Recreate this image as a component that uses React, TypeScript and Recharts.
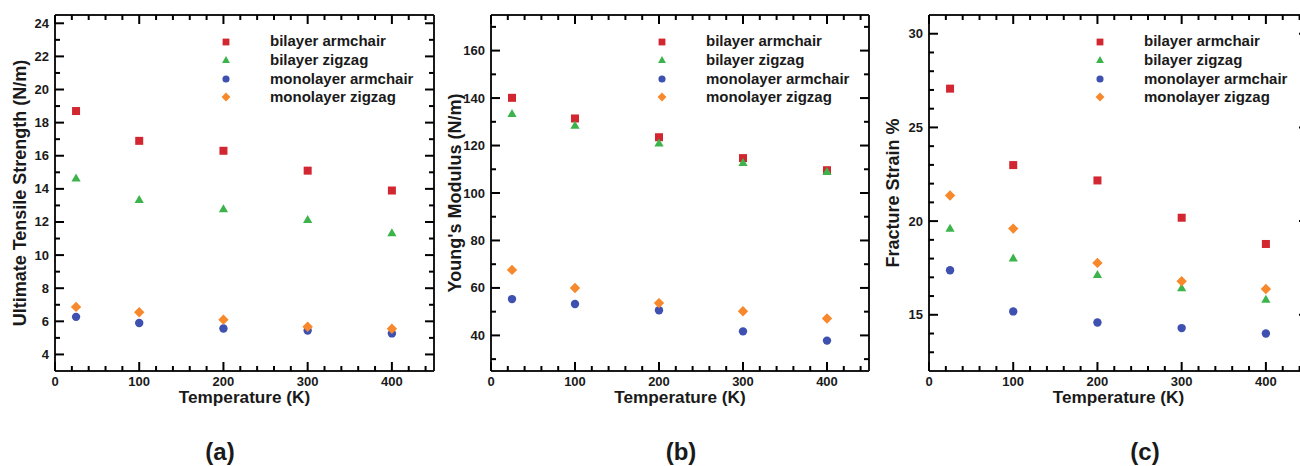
import React from 'react';
import { ScatterChart, Scatter, XAxis, YAxis } from 'recharts';

// shared x values (temperature, K)
const temps = [25, 100, 200, 300, 400];

const seriesNames = ['bilayer armchair', 'bilayer zigzag', 'monolayer armchair', 'monolayer zigzag'];
const seriesColors = ['#d22630', '#3cb44b', '#3f51b0', '#f7882c'];
const seriesShapes = ['square', 'triangle', 'circle', 'diamond'];

// (a) ultimate tensile strength, N/m
const utsBiArm = [18.7, 16.9, 16.3, 15.1, 13.9];
const utsBiZig = [14.65, 13.35, 12.8, 12.15, 11.35];
const utsMonoArm = [6.27, 5.9, 5.57, 5.45, 5.27];
const utsMonoZig = [6.87, 6.55, 6.1, 5.67, 5.55];

// (b) Young's modulus, N/m
const ymBiArm = [140.1, 131.4, 123.5, 114.7, 109.6];
const ymBiZig = [133.5, 128.5, 121, 112.8, 109];
const ymMonoArm = [55.3, 53.2, 50.6, 41.7, 37.8];
const ymMonoZig = [67.6, 60, 53.6, 50.2, 47.1];

// (c) fracture strain, %
const fsBiArm = [27.07, 22.99, 22.17, 20.18, 18.78];
const fsBiZig = [19.61, 18.03, 17.15, 16.44, 15.83];
const fsMonoArm = [17.38, 15.18, 14.59, 14.29, 14.0];
const fsMonoZig = [21.37, 19.6, 17.77, 16.79, 16.38];

// ticks
const xTicks = [0, 20, 40, 60, 80, 100, 120, 140, 160, 180, 200, 220, 240, 260, 280, 300, 320, 340, 360, 380, 400, 420, 440];
const xMajor = [0, 100, 200, 300, 400];
const yTicksA = [4, 5, 6, 7, 8, 9, 10, 11, 12, 13, 14, 15, 16, 17, 18, 19, 20, 21, 22, 23, 24];
const yMajorA = [4, 6, 8, 10, 12, 14, 16, 18, 20, 22, 24];
const yTicksB = [30, 40, 50, 60, 70, 80, 90, 100, 110, 120, 130, 140, 150, 160, 170];
const yMajorB = [40, 60, 80, 100, 120, 140, 160];
const yTicksC = [13, 14, 15, 16, 17, 18, 19, 20, 21, 22, 23, 24, 25, 26, 27, 28, 29, 30];
const yMajorC = [15, 20, 25, 30];

const FONT = '"Liberation Sans", Arial, Helvetica, sans-serif';
const INK = '#1a1a1a';
const CHART_H = 400;

const Marker = ({ cx, cy, kind, fill, k = 1 }: any) => {
  if (cx == null || cy == null) return null;
  if (kind === 'square') {
    const s = 4 * k;
    return <rect x={cx - s} y={cy - s} width={2 * s} height={2 * s} fill={fill} />;
  }
  if (kind === 'triangle') {
    const h = 4.6 * k;
    return <polygon points={`${cx},${cy - h} ${cx + h},${cy + h * 0.75} ${cx - h},${cy + h * 0.75}`} fill={fill} />;
  }
  if (kind === 'circle') return <circle cx={cx} cy={cy} r={4.2 * k} fill={fill} />;
  const d = 5.2 * k;
  return <polygon points={`${cx},${cy - d} ${cx + d},${cy} ${cx},${cy + d} ${cx - d},${cy}`} fill={fill} />;
};

// inward tick marks, long on majors; labels only on the bottom/left majors
const makeTick = (side: string, majors: number[], showLabel: boolean) => (props: any) => {
  const x = Number(props.x);
  const y = Number(props.y);
  const v = props.payload.value;
  const major = majors.includes(v);
  const len = major ? 9 : 5;
  let ex = x;
  let ey = y - len;
  if (side === 'top') ey = y + len;
  if (side === 'left') { ex = x + len; ey = y; }
  if (side === 'right') { ex = x - len; ey = y; }
  return (
    <g>
      <line x1={x} y1={y} x2={ex} y2={ey} stroke="#000" strokeWidth={2} />
      {showLabel && major ? (
        <text
          x={side === 'left' ? x - 6 : x}
          y={side === 'left' ? y + 4.5 : y + 14.5}
          textAnchor={side === 'left' ? 'end' : 'middle'}
          fontFamily={FONT}
          fontWeight={700}
          fontSize={13}
          fill={INK}
        >
          {v}
        </text>
      ) : null}
    </g>
  );
};

const NoMark = () => null;

const LegendBox = ({ left, top }: { left: number; top: number }) => (
  <div style={{ position: 'absolute', left, top, fontFamily: FONT, fontWeight: 700, fontSize: 15, color: INK, lineHeight: '18.6px' }}>
    {seriesNames.map((n, i) => (
      <div key={n} style={{ display: 'flex', alignItems: 'center', height: 18.6, whiteSpace: 'nowrap' }}>
        <svg width={14} height={14} style={{ marginRight: 37 }}>
          <Marker cx={7} cy={7} kind={seriesShapes[i]} fill={seriesColors[i]} k={0.85} />
        </svg>
        <span>{n}</span>
      </div>
    ))}
  </div>
);

interface PanelProps {
  left: number;
  width: number;
  yAxisWidth: number;
  yDomain: [number, number];
  yTicks: number[];
  yMajor: number[];
  series: number[][];
  yTitle: string;
  yTitleX: number;
  label: string;
  labelX: number;
}

const axisLine = { stroke: INK, strokeWidth: 2 };

const Panel = ({ left, width, yAxisWidth, yDomain, yTicks, yMajor, series, yTitle, yTitleX, label, labelX }: PanelProps) => {
  const plotLeft = left + yAxisWidth;
  const plotCenter = (plotLeft + left + width) / 2;
  const rows = series.map((vals) => temps.map((t, j) => ({ x: t, y: vals[j] })));
  return (
    <>
      <div style={{ position: 'absolute', left, top: 0 }}>
        <ScatterChart width={width + 1} height={CHART_H} margin={{ top: 14, right: 0, bottom: 0, left: 0 }}>
          <XAxis xAxisId="b" type="number" dataKey="x" domain={[0, 450]} ticks={xTicks} interval={0}
            tickSize={0} tickMargin={0} tickLine={false} height={29} axisLine={axisLine}
            tick={makeTick('bottom', xMajor, true)} />
          <XAxis xAxisId="t" orientation="top" type="number" dataKey="x" domain={[0, 450]} ticks={xTicks} interval={0}
            tickSize={0} tickMargin={0} tickLine={false} height={1} axisLine={axisLine}
            tick={makeTick('top', xMajor, false)} />
          <YAxis yAxisId="l" type="number" dataKey="y" domain={yDomain} ticks={yTicks} interval={0}
            tickSize={0} tickMargin={0} tickLine={false} width={yAxisWidth} axisLine={axisLine}
            tick={makeTick('left', yMajor, true)} />
          <YAxis yAxisId="r" orientation="right" type="number" dataKey="y" domain={yDomain} ticks={yTicks} interval={0}
            tickSize={0} tickMargin={0} tickLine={false} width={1} axisLine={axisLine}
            tick={makeTick('right', yMajor, false)} />
          {/* mirror frame axes need a series of their own to get a scale */}
          <Scatter xAxisId="t" yAxisId="r" data={rows[0]} shape={NoMark} legendType="none" isAnimationActive={false} />
          {rows.map((data, i) => (
            <Scatter
              key={seriesNames[i]}
              name={seriesNames[i]}
              xAxisId="b"
              yAxisId="l"
              data={data}
              fill={seriesColors[i]}
              shape={(p: any) => <Marker cx={p.cx} cy={p.cy} kind={seriesShapes[i]} fill={seriesColors[i]} />}
              isAnimationActive={false}
            />
          ))}
        </ScatterChart>
      </div>
      <LegendBox left={plotLeft + 164} top={32.4} />
      <div style={{ position: 'absolute', left: yTitleX, top: 193, transform: 'translate(-50%, -50%) rotate(-90deg)', fontFamily: FONT, fontWeight: 700, fontSize: 18, lineHeight: 1, color: INK, whiteSpace: 'nowrap' }}>
        {yTitle}
      </div>
      <div style={{ position: 'absolute', left: plotCenter, top: 397.5, transform: 'translate(-50%, -50%)', fontFamily: FONT, fontWeight: 700, fontSize: 17.2, lineHeight: 1, color: INK, whiteSpace: 'nowrap' }}>
        Temperature (K)
      </div>
      <div style={{ position: 'absolute', left: labelX, top: 452, transform: 'translate(-50%, -50%)', fontFamily: FONT, fontWeight: 700, fontSize: 24, lineHeight: 1, color: INK, whiteSpace: 'nowrap' }}>
        {label}
      </div>
    </>
  );
};

export default function App() {
  return (
    <div style={{ position: 'absolute', left: 0, top: 0, width: 1300, height: 466, overflow: 'hidden', background: '#fff' }}>
      <Panel left={0} width={434} yAxisWidth={55} yDomain={[3, 24.5]} yTicks={yTicksA} yMajor={yMajorA}
        series={[utsBiArm, utsBiZig, utsMonoArm, utsMonoZig]} yTitle="Ultimate Tensile Strength (N/m)" yTitleX={20}
        label="(a)" labelX={220} />
      <Panel left={440} width={429} yAxisWidth={51} yDomain={[25, 175]} yTicks={yTicksB} yMajor={yMajorB}
        series={[ymBiArm, ymBiZig, ymMonoArm, ymMonoZig]} yTitle="Young's Modulus (N/m)" yTitleX={455}
        label="(b)" labelX={681} />
      <Panel left={875} width={433} yAxisWidth={54} yDomain={[12, 31]} yTicks={yTicksC} yMajor={yMajorC}
        series={[fsBiArm, fsBiZig, fsMonoArm, fsMonoZig]} yTitle="Fracture Strain %" yTitleX={893}
        label="(c)" labelX={1145} />
    </div>
  );
}
